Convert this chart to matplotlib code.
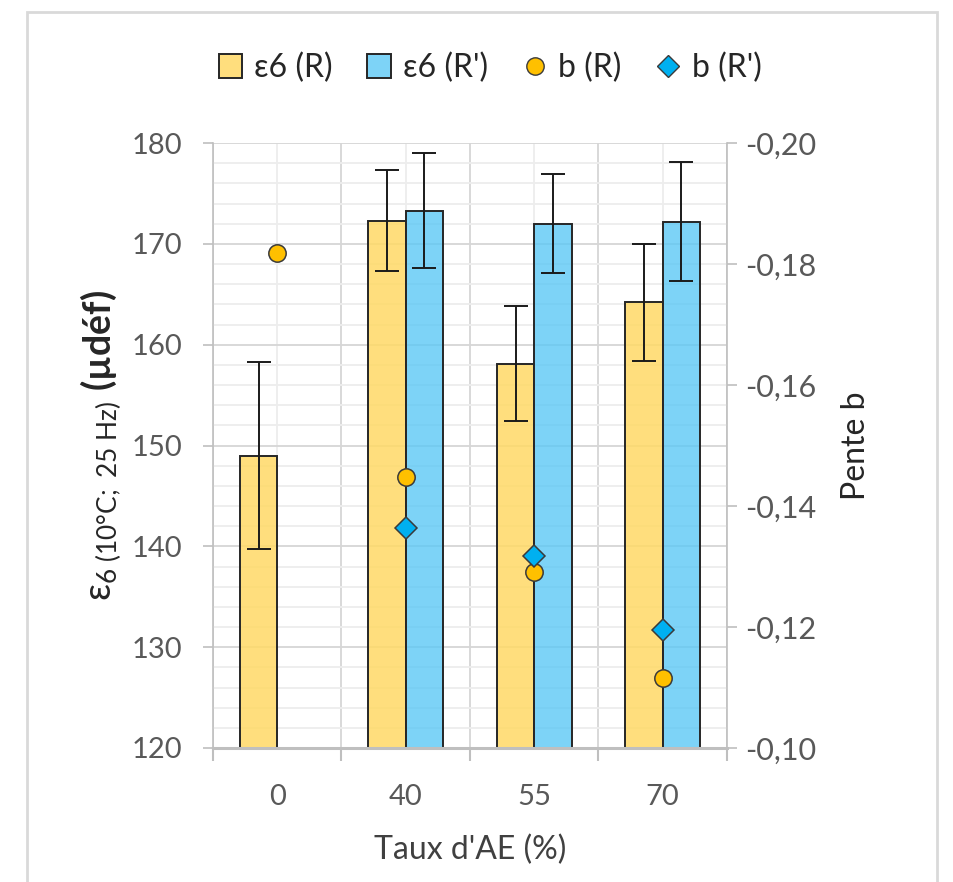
import matplotlib
matplotlib.use('Agg')
import matplotlib.pyplot as plt
from matplotlib.patches import Patch, Rectangle
from matplotlib.lines import Line2D
from matplotlib.ticker import MultipleLocator, FixedLocator, FuncFormatter
import numpy as np

plt.rcParams['font.family'] = ['Lato', 'DejaVu Sans']
plt.rcParams['mathtext.fontset'] = 'custom'
plt.rcParams['mathtext.rm'] = 'Lato'
plt.rcParams['mathtext.bf'] = 'Lato:bold'
plt.rcParams['mathtext.it'] = 'Lato:italic'

# valeurs
categories = ['0', '40', '55', '70']
eps_R = [149.0, 172.3, 158.1, 164.2]
eps_R_err = [9.3, 5.0, 5.7, 5.8]
eps_Rp_idx = [1, 2, 3]
eps_Rp = [173.3, 172.0, 172.2]
eps_Rp_err = [5.7, 4.9, 5.9]
b_R = [-0.1818, -0.1448, -0.1291, -0.1116]
b_Rp_idx = [1, 2, 3]
b_Rp = [-0.1364, -0.1317, -0.1195]

yellow = (1.0, 0.851, 0.400, 0.85)
blue = (0.36, 0.785, 0.96, 0.80)
edge = '#262626'
tick_col = '#595959'
grid_major = '#d6d6d6'
grid_minor = '#ededed'

fig = plt.figure(figsize=(9.54, 8.82), dpi=100)
ax = fig.add_axes([213 / 954, 1 - 748 / 882, (727 - 213) / 954, (748 - 143) / 882])

x = np.arange(len(categories))
w = 0.29
ax.bar(x - w / 2, eps_R, w, facecolor=yellow, edgecolor=edge, linewidth=1.4, zorder=2)
ax.bar(np.array(eps_Rp_idx) + w / 2, eps_Rp, w, facecolor=blue, edgecolor=edge, linewidth=1.4, zorder=2)
ax.errorbar(x - w / 2, eps_R, yerr=eps_R_err, fmt='none', ecolor='#1a1a1a', elinewidth=1.4,
            capsize=8.5, capthick=1.4, zorder=3)
ax.errorbar(np.array(eps_Rp_idx) + w / 2, eps_Rp, yerr=eps_Rp_err, fmt='none', ecolor='#1a1a1a',
            elinewidth=1.4, capsize=8.5, capthick=1.4, zorder=3)

ax.set_xlim(-0.5, len(categories) - 0.5)
ax.set_ylim(120, 180)
ax.yaxis.set_major_locator(MultipleLocator(10))
ax.yaxis.set_minor_locator(MultipleLocator(2))
ax.xaxis.set_major_locator(FixedLocator(x))
ax.xaxis.set_minor_locator(FixedLocator(np.arange(len(categories) + 1) - 0.5))
ax.set_xticklabels(categories)
ax.set_axisbelow(True)
ax.grid(which='major', axis='y', color=grid_major, linewidth=1.3)
ax.grid(which='minor', axis='y', color=grid_minor, linewidth=1.3)
ax.grid(which='minor', axis='x', color=grid_major, linewidth=1.3)
ax.grid(which='major', axis='x', color=grid_minor, linewidth=1.3)

ax.tick_params(axis='x', which='major', length=0, labelsize=21, labelcolor=tick_col, pad=26)
ax.tick_params(axis='x', which='minor', length=9, width=1.5, color='#bfbfbf', direction='out')
ax.tick_params(axis='y', which='major', length=7, width=1.2, color='#bfbfbf', labelsize=21,
               labelcolor=tick_col, pad=15)
ax.tick_params(axis='y', which='minor', length=0)

for s in ['top', 'right']:
    ax.spines[s].set_visible(False)
ax.spines['left'].set_color('#bfbfbf')
ax.spines['left'].set_linewidth(1.2)
ax.spines['bottom'].set_color('#bfbfbf')
ax.spines['bottom'].set_linewidth(2.2)

ax.set_xlabel("Taux d'AE (%)", fontsize=23, color='#404040', labelpad=18)
ax.set_ylabel(r'$\mathrm{ε}_{\mathrm{6\ (10°C;\ 25\ Hz)}}\ \mathbf{(µdéf)}$', fontsize=27,
              color='#262626', labelpad=6)

ax2 = ax.twinx()
ax2.set_ylim(-0.10, -0.20)
ax2.yaxis.set_major_locator(MultipleLocator(0.02))
ax2.yaxis.set_major_formatter(FuncFormatter(lambda v, p: f'{v:.2f}'.replace('.', ',')))
ax2.plot(x, b_R, linestyle='none', marker='o', markersize=12.5, markerfacecolor='#FFC000',
         markeredgecolor='#3a3a3a', markeredgewidth=1.1, zorder=4)
ax2.plot(b_Rp_idx, b_Rp, linestyle='none', marker='D', markersize=11, markerfacecolor='#00B0F0',
         markeredgecolor='#3a3a3a', markeredgewidth=1.1, zorder=4)
ax2.tick_params(axis='y', length=7, width=1.2, color='#bfbfbf', labelsize=22, labelcolor=tick_col, pad=6)
for s in ['top', 'left', 'bottom']:
    ax2.spines[s].set_visible(False)
ax2.spines['right'].set_color('#bfbfbf')
ax2.spines['right'].set_linewidth(1.2)
ax2.set_ylabel('Pente b', fontsize=23, color='#262626', labelpad=18)

handles = [
    Patch(facecolor=yellow, edgecolor=edge, linewidth=1.4),
    Patch(facecolor=blue, edgecolor=edge, linewidth=1.4),
    Line2D([], [], linestyle='none', marker='o', markersize=12.5, markerfacecolor='#FFC000',
           markeredgecolor='#3a3a3a'),
    Line2D([], [], linestyle='none', marker='D', markersize=11, markerfacecolor='#00B0F0',
           markeredgecolor='#3a3a3a'),
]
labels = ['ε6 (R)', "ε6 (R')", 'b (R)', "b (R')"]
fig.legend(handles, labels, loc='center', bbox_to_anchor=(490 / 954, 1 - 68 / 882), ncol=4,
           frameon=False, fontsize=23, handlelength=0.75, handleheight=0.75, handletextpad=0.35,
           columnspacing=1.1, labelcolor='#262626')

fig.patches.append(Rectangle((27 / 954, -0.02), (937 - 27) / 954, 1 - 12 / 882 + 0.02,
                             transform=fig.transFigure, fill=False, edgecolor='#d9d9d9',
                             linewidth=2))

fig.savefig('out.png', dpi=100)
